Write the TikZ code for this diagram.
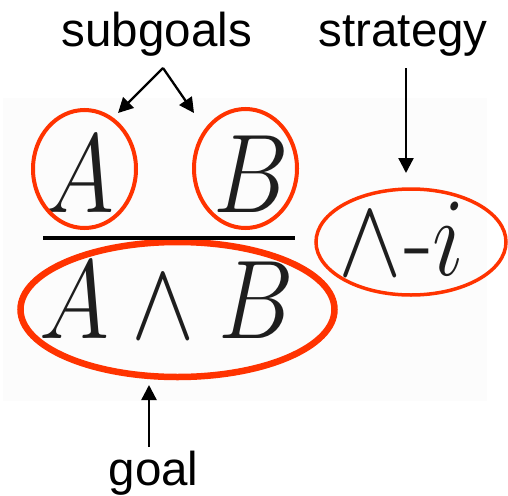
\RequirePackage{fix-cm}
\documentclass[tikz,border=0pt]{standalone}
\usepackage{fontspec}
\usetikzlibrary{arrows.meta}
\newfontfamily\labelfont{Liberation Sans}
\definecolor{ringred}{RGB}{255,51,0}
\definecolor{panelgray}{RGB}{252,252,252}
\definecolor{glyph}{RGB}{30,30,30}
\newcommand{\bigmath}[1]{\fontsize{112}{112}\selectfont\scalebox{0.85}[1]{$#1$}}
\tikzset{
  lbl/.style={font=\labelfont\fontsize{47.5}{47.5}\selectfont, inner sep=0pt, anchor=base west},
  sym/.style={inner sep=0pt, anchor=base west, text=glyph},
  ring/.style={draw=ringred},
  pointer/.style={line width=2.3pt, -{Triangle[length=15pt,width=15pt]}},
}
\begin{document}
\begin{tikzpicture}[x=1pt,y=-1pt]
\useasboundingbox (0,0) rectangle (508,495);
\fill[panelgray] (3,98) rectangle (487,401);
% labels
\node[lbl] (subgoals) at (61.5,47) {subgoals};
\node[lbl] (strategy) at (318.5,47) {strategy};
\node[lbl] (goal) at (108.5,485) {goal};
% premises
\node[sym] (A) at (44,212) {\bigmath{A}};
\node[sym] (B) at (213,212) {\bigmath{B}};
% conclusion
\node[sym] (gA) at (39,338) {\bigmath{A}};
\node[sym] (gW) at (131,338) {\bigmath{\wedge}};
\node[sym] (gB) at (218,338) {\bigmath{B}};
% rule name
\node[sym] (ruleW) at (338,275) {\bigmath{\wedge}};
\node[sym] (ruleD) at (404,275) {\fontsize{112}{112}\selectfont\scalebox{0.85}[1]{-}};
\node[sym] (ruleI) at (432,275) {\bigmath{i}};
% rings
\draw[ring, line width=4pt] (84.5,169) ellipse [x radius=51.5pt, y radius=59pt];
\draw[ring, line width=4pt] (245.5,168.5) ellipse [x radius=51.5pt, y radius=59.5pt];
\draw[ring, line width=6.5pt] (177.5,309.5) ellipse [x radius=157pt, y radius=67.5pt];
\draw[ring, line width=3.5pt] (411,242) ellipse [x radius=95pt, y radius=53pt];
% inference bar
\coordinate (barL) at (43,238);
\coordinate (barR) at (295,238);
\draw[line width=4.5pt] (barL) -- (barR);
% pointers
\coordinate (sgFork) at (163,68);
\coordinate (tipA) at (118,113);
\coordinate (tipB) at (194,113);
\draw[pointer] (sgFork) -- (tipA);
\draw[pointer] (sgFork) -- (tipB);
\coordinate (stStart) at (406,68);
\coordinate (tipS) at (406,173);
\draw[pointer] (stStart) -- (tipS);
\coordinate (glStart) at (149,447);
\coordinate (tipG) at (149,385);
\draw[pointer] (glStart) -- (tipG);
\end{tikzpicture}
\end{document}
